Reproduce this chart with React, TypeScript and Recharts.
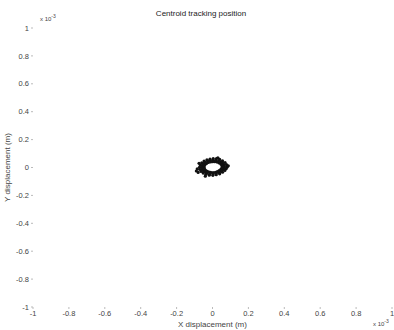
import { ScatterChart, Scatter, XAxis, YAxis, Label } from "recharts";

// Positions in units of 1e-3 m (axes carry a "x 10^-3" multiplier).
const OUTER_X = [0.082, 0.078, 0.07, 0.056, 0.04, 0.022, 0.004, -0.014, -0.031, -0.047, -0.06, -0.068, -0.072, -0.071, -0.064, -0.052, -0.037, -0.018, 0.002, 0.021, 0.04, 0.056, 0.069, 0.077];
const OUTER_Y = [0.004, 0.02, 0.036, 0.047, 0.058, 0.063, 0.064, 0.06, 0.055, 0.046, 0.034, 0.018, 0.002, -0.013, -0.028, -0.04, -0.049, -0.055, -0.056, -0.052, -0.045, -0.034, -0.021, -0.008];
const MID_X = [0.067, 0.064, 0.058, 0.047, 0.034, 0.018, 0.003, -0.012, -0.027, -0.04, -0.05, -0.057, -0.059, -0.058, -0.052, -0.042, -0.029, -0.014, 0.003, 0.019, 0.034, 0.047, 0.058, 0.064];
const MID_Y = [0.005, 0.018, 0.03, 0.04, 0.048, 0.052, 0.053, 0.05, 0.046, 0.038, 0.028, 0.016, 0.003, -0.01, -0.022, -0.032, -0.04, -0.045, -0.046, -0.043, -0.037, -0.028, -0.017, -0.006];
const INNER_X = [0.055, 0.052, 0.046, 0.037, 0.026, 0.013, 0.001, -0.011, -0.023, -0.033, -0.041, -0.046, -0.047, -0.045, -0.04, -0.032, -0.022, -0.01, 0.003, 0.016, 0.027, 0.037, 0.046, 0.052];
const INNER_Y = [0.004, 0.015, 0.025, 0.033, 0.039, 0.042, 0.042, 0.04, 0.036, 0.029, 0.021, 0.011, 0.0, -0.009, -0.018, -0.026, -0.031, -0.035, -0.036, -0.034, -0.029, -0.022, -0.014, -0.005];
const STRAY_X = [-0.085, -0.09, -0.08, 0.088, -0.075, 0.03, -0.04];
const STRAY_Y = [-0.01, -0.025, -0.035, 0.012, 0.03, 0.07, -0.062];

const TICKS = [-1, -0.8, -0.6, -0.4, -0.2, 0, 0.2, 0.4, 0.6, 0.8, 1];

const zip = (xs: number[], ys: number[]) => xs.map((x, i) => ({ x, y: ys[i] }));
const points = [
  ...zip(OUTER_X, OUTER_Y),
  ...zip(MID_X, MID_Y),
  ...zip(INNER_X, INNER_Y),
  ...zip(STRAY_X, STRAY_Y),
];

const FONT = "'Liberation Sans', Arial, sans-serif";
const TEXT = "#444";
const TICK_LINE = "#bbb";

const Dot = (props: any) => <circle cx={props.cx} cy={props.cy} r={1.6} fill="#111" />;

export default function App() {
  return (
    <div style={{ position: "absolute", left: 0, top: 0, width: 394, height: 330, background: "#fff", fontFamily: FONT }}>
      <div style={{ position: "absolute", top: 9, left: 0, width: 402, textAlign: "center", fontSize: 8, color: "#222" }}>
        Centroid tracking position
      </div>
      <div style={{ position: "absolute", top: 13, left: 40, fontSize: 6, color: TEXT }}>
        x 10<sup style={{ fontSize: 5 }}>-3</sup>
      </div>
      <div style={{ position: "absolute", top: 318, left: 373, fontSize: 6, color: TEXT }}>
        x 10<sup style={{ fontSize: 5 }}>-3</sup>
      </div>
      <ScatterChart width={394} height={330} margin={{ top: 28, right: 2, bottom: 0, left: 0 }}>
        <XAxis
          xAxisId="b"
          type="number"
          dataKey="x"
          domain={[-1, 1]}
          ticks={TICKS}
          allowDataOverflow
          height={23}
          axisLine={false}
          tickLine={{ stroke: TICK_LINE }}
          tickSize={2}
          tick={{ fill: TEXT, fontSize: 7.5, fontFamily: FONT }}
        >
          <Label value="X displacement (m)" position="insideBottom" offset={3} style={{ fill: TEXT, fontSize: 8, fontFamily: FONT }} />
        </XAxis>
        <XAxis
          xAxisId="t"
          orientation="top"
          type="number"
          dataKey="x"
          domain={[-1, 1]}
          ticks={TICKS}
          height={1}
          mirror
          axisLine={false}
          tickLine={{ stroke: TICK_LINE }}
          tickSize={2}
          tickFormatter={() => ""}
        />
        <YAxis
          yAxisId="l"
          type="number"
          dataKey="y"
          domain={[-1, 1]}
          ticks={TICKS}
          allowDataOverflow
          width={33}
          axisLine={false}
          tickLine={{ stroke: TICK_LINE }}
          tickSize={2}
          tick={{ fill: TEXT, fontSize: 7.5, fontFamily: FONT }}
        >
          <Label value="Y displacement (m)" angle={-90} position="insideLeft" offset={7} style={{ fill: TEXT, fontSize: 8, fontFamily: FONT, textAnchor: "middle" }} />
        </YAxis>
        <YAxis
          yAxisId="r"
          orientation="right"
          type="number"
          dataKey="y"
          domain={[-1, 1]}
          ticks={TICKS}
          width={1}
          mirror
          axisLine={false}
          tickLine={{ stroke: TICK_LINE }}
          tickSize={2}
          tickFormatter={() => ""}
        />
        <Scatter data={points} xAxisId="b" yAxisId="l" shape={Dot} isAnimationActive={false} />
      </ScatterChart>
    </div>
  );
}
